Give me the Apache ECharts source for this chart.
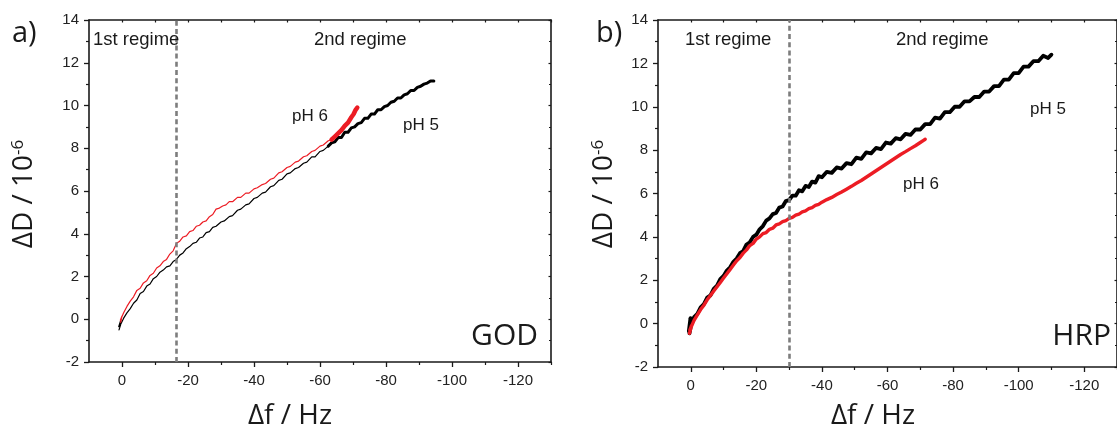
<!DOCTYPE html>
<html>
<head>
<meta charset="utf-8">
<script src="https://cdn.jsdelivr.net/npm/echarts@6/dist/echarts.min.js"></script>
<style>
  html, body { margin: 0; padding: 0; background: #fff; }
  #chart { width: 1117px; height: 429px; }
</style>
</head>
<body>
<div id="chart"></div>
<script>
// ΔD vs Δf traces (QCM-D), panel a: GOD, panel b: HRP
const xTickLabels = [0, -20, -40, -60, -80, -100, -120];
const xMinorTicks = [-10, -30, -50, -70, -90, -110, -130];

// Boundary between 1st and 2nd regime (Hz)
const godBoundary = -16.5;
const hrpBoundary = -30;

// GOD, pH 5 (thin part, then noisier tail)
const godPH5 = [
  [0.9,-0.5],[0.3,-0.2],[1.0,-0.35],[0.4,-0.05],[0.6,-0.3],[-0.5,0.05],[-1.5,0.3],[-2.5,0.5],
  [-3.5,0.75],[-4.5,0.9],[-5.5,1.2],[-6.5,1.3],[-7.5,1.55],[-8.5,1.65],[-9.5,1.9],[-10.5,2.0],
  [-11.5,2.2],[-12.5,2.3],[-13.5,2.45],[-14.5,2.5],[-15.5,2.7],[-16.5,2.8],[-17.5,3.0],[-18.5,3.1],
  [-19.5,3.3],[-20.5,3.4],[-21.5,3.55],[-22.5,3.6],[-23.5,3.8],[-24.5,3.85],[-25.5,4.05],[-26.5,4.1],
  [-27.5,4.3],[-28.5,4.35],[-30,4.55],[-31,4.6],[-32.5,4.8],[-33.5,4.85],[-35,5.1],[-36,5.15],
  [-37.5,5.35],[-38.5,5.4],[-40,5.65],[-41,5.7],[-42.5,5.9],[-43.5,5.95],[-45,6.2],[-46,6.25],
  [-47.5,6.5],[-48.5,6.55],[-50,6.8],[-51,6.85],[-52.5,7.05],[-53.5,7.1],[-55,7.3],[-56,7.35],
  [-57.5,7.6],[-58.5,7.6],[-60,7.85],[-61,7.9],[-62.5,8.1]
];
const godPH5Tail = [
  [-62.5,8.1],[-63.5,8.25],[-64.5,8.3],[-65.5,8.5],[-66.5,8.5],[-67.5,8.75],[-68.5,8.75],
  [-69.5,8.95],[-70.5,9.0],[-71.5,9.15],[-72.5,9.2],[-73.5,9.4],[-74.5,9.4],[-75.5,9.6],
  [-76.5,9.6],[-77.5,9.8],[-78.5,9.8],[-79.5,9.95],[-80.5,10.0],[-81.5,10.15],[-82.5,10.2],
  [-83.5,10.35],[-84.5,10.35],[-85.5,10.5],[-86.5,10.55],[-87.5,10.7],[-88.5,10.7],[-89.5,10.85],
  [-90.5,10.9],[-91.5,11.0],[-92.5,11.05],[-93.5,11.15],[-94.5,11.15]
];

// GOD, pH 6
const godPH6 = [
  [0.4,-0.15],[0.0,0.15],[0.5,-0.05],[-0.5,0.3],[-1.5,0.6],[-2.5,0.85],[-3.5,1.05],[-4.5,1.35],
  [-5.5,1.45],[-6.5,1.7],[-7.5,1.8],[-8.5,2.05],[-9.5,2.15],[-10.5,2.4],[-11.5,2.5],[-12.5,2.7],
  [-13.5,2.8],[-14.5,3.05],[-15.5,3.2],[-16.5,3.55],[-17.5,3.65],[-18.5,3.85],[-19.5,3.9],
  [-20.5,4.1],[-21.5,4.15],[-22.5,4.35],[-23.5,4.4],[-24.5,4.55],[-25.5,4.6],[-26.5,4.8],
  [-27.5,4.9],[-28.5,5.15],[-29.5,5.2],[-30.5,5.3],[-31.5,5.35],[-32.5,5.5],[-33.5,5.5],
  [-35,5.7],[-36,5.7],[-37.5,5.9],[-38.5,5.9],[-40,6.1],[-41,6.15],[-42.5,6.3],[-43.5,6.35],
  [-45,6.55],[-46,6.6],[-47.5,6.85],[-48.5,6.9],[-50,7.1],[-51,7.15],[-52.5,7.35],[-53.5,7.4],
  [-55,7.6],[-56,7.65],[-57.5,7.85],[-58.5,7.9],[-60,8.1],[-61,8.15],[-62.5,8.35],[-63.5,8.4]
];
const godPH6Tail = [
  [-63.5,8.4],[-64.5,8.55],[-65.5,8.7],[-66.5,8.85],[-67.5,9.05],[-68.5,9.2],[-69.5,9.45],
  [-70.2,9.6],[-70.8,9.8],[-71.3,9.9]
];

// HRP, pH 5
const hrpPH5 = [
  [0.6,-0.35],[0.1,0.25],[0.4,-0.45],[-0.3,0.1],[0.2,-0.2],[-1,0.3],[-2,0.45],[-3,0.75],[-4,0.9],
  [-5,1.2],[-6,1.3],[-7,1.6],[-8,1.75],[-9,2.05],[-10,2.2],[-11,2.45],[-12,2.6],[-13,2.85],
  [-14,3.0],[-15,3.25],[-16,3.35],[-17,3.65],[-18,3.75],[-19,4.0],[-20,4.1],[-21,4.35],[-22,4.5],
  [-23,4.75],[-24,4.85],[-25,5.05],[-26,5.1],[-27,5.35],[-28,5.4],[-29,5.65],[-30,5.7],[-31,5.9],
  [-32,5.9],[-33,6.15],[-34,6.1],[-35,6.35],[-36,6.3],[-37,6.55],[-38,6.5],[-39,6.8],[-40,6.75],
  [-41.5,7.0],[-43,6.95],[-44.5,7.2],[-46,7.15],[-47.5,7.4],[-49,7.35],[-50.5,7.65],[-52,7.6],
  [-53.5,7.9],[-55,7.85],[-56.5,8.1],[-58,8.05],[-59.5,8.35],[-61,8.3],[-62.5,8.55],[-64,8.5],
  [-65.5,8.75],[-67,8.7],[-68.5,8.95],[-70,8.95],[-71.5,9.2],[-73,9.2],[-74.5,9.5],[-76,9.45],
  [-77.5,9.75],[-79,9.75],[-80.5,10.0],[-82,10.0],[-83.5,10.25],[-85,10.25],[-86.5,10.45],[-88,10.45],
  [-89.5,10.7],[-91,10.7],[-92.5,10.95],[-94,10.95],[-95.5,11.25],[-97,11.25],[-98.5,11.55],
  [-100,11.55],[-101.5,11.85],[-103,11.85],[-104.5,12.1],[-106,12.1],[-107.5,12.35],[-109,12.25],
  [-110,12.4]
];

// HRP, pH 6
const hrpPH6 = [
  [0.4,-0.45],[-0.2,-0.1],[0.3,-0.3],[-1,0.15],[-2,0.4],[-3,0.65],[-4,0.85],[-5,1.1],[-6,1.3],
  [-7,1.5],[-8,1.7],[-9,1.9],[-10,2.1],[-11,2.3],[-12,2.5],[-13,2.7],[-14,2.9],[-15,3.05],
  [-16,3.25],[-17,3.4],[-18,3.6],[-19,3.7],[-20,3.9],[-21,4.0],[-22,4.15],[-23,4.2],[-24,4.35],
  [-25,4.4],[-26,4.55],[-27,4.6],[-28,4.7],[-29,4.75],[-30,4.85],[-31,4.9],[-32,5.0],[-33,5.05],
  [-34,5.15],[-35,5.2],[-36,5.3],[-37,5.35],[-38,5.45],[-39,5.5],[-40,5.6],[-41.5,5.72],[-43,5.82],
  [-44.5,5.95],[-46,6.07],[-47.5,6.2],[-49,6.33],[-50.5,6.47],[-52,6.6],[-53.5,6.75],[-55,6.9],
  [-56.5,7.05],[-58,7.2],[-59.5,7.35],[-61,7.5],[-62.5,7.65],[-64,7.8],[-65.5,7.93],[-67,8.07],
  [-68.5,8.2],[-70,8.35],[-71,8.45],[-71.5,8.5]
];

const RED = '#ec1c24';
const BLACK = '#000000';
const AXIS_COLOR = '#1a1a1a';
const TICK_FONT = 'Liberation Sans, Arial, sans-serif';
const TITLE_FONT = 'Open Sans, Noto Sans, sans-serif';

const chart = echarts.init(document.getElementById('chart'), null, { renderer: 'canvas' });

const grids = [
  { left: 89, top: 20, width: 462, height: 342 },
  { left: 658, top: 20, width: 472, height: 347 }
];

function axesFor(g) {
  const line = { show: true, onZero: false, lineStyle: { color: AXIS_COLOR, width: 1.6 } };
  const x = [
    { // bottom axis with labels and major ticks
      gridIndex: g, type: 'value', min: -130, max: 10, inverse: true, position: 'bottom',
      axisLine: line,
      axisTick: { show: true, customValues: xTickLabels, length: 5, lineStyle: { color: AXIS_COLOR, width: 1.3 } },
      axisLabel: { show: true, customValues: xTickLabels, margin: 11, fontSize: 15, color: '#222', fontFamily: TICK_FONT },
      splitLine: { show: false }
    },
    { // bottom minor ticks
      gridIndex: g, type: 'value', min: -130, max: 10, inverse: true, position: 'bottom',
      axisLine: { show: false, onZero: false },
      axisTick: { show: true, customValues: xMinorTicks, length: 3, lineStyle: { color: AXIS_COLOR, width: 1.2 } },
      axisLabel: { show: false }, splitLine: { show: false }
    },
    { // top frame
      gridIndex: g, type: 'value', min: -130, max: 10, inverse: true, position: 'top',
      axisLine: line,
      axisTick: { show: true, inside: true, customValues: xTickLabels.concat(xMinorTicks), length: 2.5, lineStyle: { color: AXIS_COLOR, width: 1.2 } },
      axisLabel: { show: false }, splitLine: { show: false }
    }
  ];
  const y = [
    {
      gridIndex: g, type: 'value', min: -2, max: 14, interval: 2, position: 'left',
      axisLine: line,
      axisTick: { show: true, length: 5, lineStyle: { color: AXIS_COLOR, width: 1.3 } },
      minorTick: { show: true, splitNumber: 2, length: 3, lineStyle: { color: AXIS_COLOR, width: 1.2 } },
      axisLabel: { margin: 10, fontSize: 15, color: '#222', fontFamily: TICK_FONT },
      splitLine: { show: false }, minorSplitLine: { show: false }
    },
    {
      gridIndex: g, type: 'value', min: -2, max: 14, interval: 2, position: 'right',
      axisLine: line,
      axisTick: { show: true, inside: true, length: 2.5, lineStyle: { color: AXIS_COLOR, width: 1.2 } },
      minorTick: { show: true, splitNumber: 2, length: 2, lineStyle: { color: AXIS_COLOR, width: 1.2 } },
      axisLabel: { show: false }, splitLine: { show: false }, minorSplitLine: { show: false }
    }
  ];
  return { x, y };
}

const a0 = axesFor(0), a1 = axesFor(1);
const xAxes = a0.x.concat(a1.x);   // indices 0..2 grid 0, 3..5 grid 1
const yAxes = a0.y.concat(a1.y);   // indices 0..1 grid 0, 2..3 grid 1

function trace(data, color, width, xi, yi, z) {
  return {
    type: 'line', data: data, xAxisIndex: xi, yAxisIndex: yi,
    showSymbol: false, symbol: 'none', smooth: false, z: z || 3,
    lineStyle: { color: color, width: width, join: 'round', cap: 'round' },
    animation: false, silent: true
  };
}

function boundary(xVal, xi, yi) {
  return {
    type: 'line', data: [], xAxisIndex: xi, yAxisIndex: yi, z: 1, silent: true, animation: false,
    markLine: {
      silent: true, symbol: ['none', 'none'], animation: false,
      label: { show: false },
      lineStyle: { color: '#7d7d7d', width: 2.6, type: [5, 3.2] },
      data: [{ xAxis: xVal }]
    }
  };
}

const series = [
  boundary(godBoundary, 0, 0),
  trace(godPH5, BLACK, 1.2, 0, 0, 3),
  trace(godPH5Tail, BLACK, 3, 0, 0, 3),
  trace(godPH6, RED, 1.2, 0, 0, 4),
  trace(godPH6Tail, RED, 4.5, 0, 0, 4),
  boundary(hrpBoundary, 3, 2),
  trace(hrpPH5, BLACK, 3.8, 3, 2, 3),
  trace(hrpPH6, RED, 3.4, 3, 2, 4)
];

function label(text, x, y, size, opts) {
  opts = opts || {};
  return {
    type: 'text', x: x, y: y, silent: true, z: 10,
    style: {
      text: text, fill: opts.fill || '#1a1a1a',
      font: (size) + 'px ' + (opts.family || TICK_FONT),
      align: opts.align || 'left', verticalAlign: opts.valign || 'middle'
    }
  };
}

function yTitle(x, y) {
  return {
    type: 'text', x: x, y: y, rotation: Math.PI / 2, silent: true, z: 10,
    style: {
      text: '{m|ΔD / 10}{s|-6}',
      align: 'center', verticalAlign: 'middle',
      rich: {
        m: { fontSize: 28, fontFamily: TITLE_FONT, fill: '#1a1a1a', color: '#1a1a1a' },
        s: { fontSize: 17, fontFamily: TITLE_FONT, fill: '#1a1a1a', color: '#1a1a1a', verticalAlign: 'top' }
      }
    }
  };
}

const graphic = [
  label('a)', 12, 34, 29, { family: TITLE_FONT }),
  label('b)', 596, 34, 29, { family: TITLE_FONT }),
  label('1st regime', 93, 40, 18.5),
  label('2nd regime', 314, 40, 18.5),
  label('1st regime', 685, 40, 18.5),
  label('2nd regime', 896, 40, 18.5),
  label('pH 6', 292, 116, 17),
  label('pH 5', 403, 125, 17),
  label('pH 5', 1030, 109, 17),
  label('pH 6', 903, 184, 17),
  label('GOD', 538, 336, 30, { family: TITLE_FONT, align: 'right' }),
  label('HRP', 1111, 336, 30, { family: TITLE_FONT, align: 'right' }),
  label('Δf / Hz', 290, 416, 28, { family: TITLE_FONT, align: 'center' }),
  label('Δf / Hz', 873, 416, 28, { family: TITLE_FONT, align: 'center' }),
  yTitle(24, 194),
  yTitle(604, 194)
];

chart.setOption({
  animation: false,
  backgroundColor: '#ffffff',
  grid: grids,
  xAxis: xAxes,
  yAxis: yAxes,
  series: series,
  graphic: graphic
});
</script>
</body>
</html>
